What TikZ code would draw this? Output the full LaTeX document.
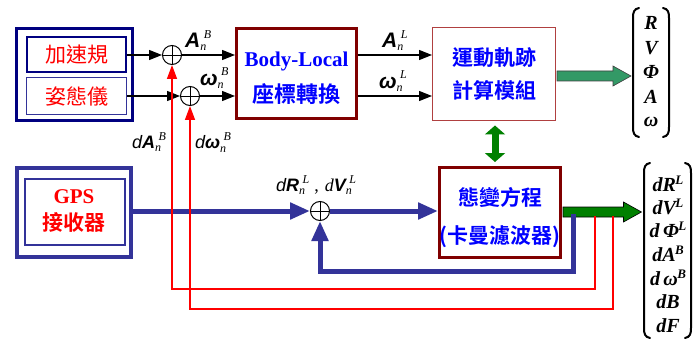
\documentclass[tikz,border=0pt]{standalone}
\usepackage{fontspec}
\setmainfont{Liberation Serif}
\newfontfamily\cjk{Noto Sans CJK TC}
\newfontfamily\cjkb{Noto Sans CJK TC Bold}
\newfontfamily\arialf{Liberation Sans}
\usetikzlibrary{arrows.meta,calc}
\definecolor{navyb}{RGB}{0,0,128}
\definecolor{gpsb}{RGB}{51,51,153}
\definecolor{dred}{RGB}{128,0,0}
\definecolor{mred}{RGB}{176,64,64}
\definecolor{tblue}{RGB}{0,0,255}
\definecolor{sgreen}{RGB}{51,153,102}
\definecolor{dgreen}{RGB}{0,128,0}
\newcommand{\vlbl}[5]{{\fontsize{#1}{#1}\selectfont #2}\rlap{\raisebox{-3pt}{\fontsize{12}{12}\selectfont\itshape #3}}\kern3.5pt\raisebox{#5}{\fontsize{12}{12}\selectfont\itshape #4}}
\newcommand{\supL}[1]{\kern-0.5pt\raisebox{7.5pt}{\fontsize{13}{13}\selectfont #1}}
\begin{document}
\begin{tikzpicture}[x=1pt,y=-1pt,
  boxn/.style={draw, inner sep=0pt, minimum width=#1},
  sumc/.style={circle, draw, line width=1pt, minimum size=19pt, inner sep=0pt, fill=white},
  blk/.style={line width=1.2pt, -{Triangle[length=13pt,width=10pt]}},
  redl/.style={red, line width=1.5pt, -{Triangle[length=14pt,width=10pt]}},
  bluel/.style={gpsb, line width=5pt, -{Triangle[length=20pt,width=16pt]}},
  cjkr/.style={red, font=\fontsize{21}{24}\selectfont\cjk},
  cjkbl/.style={tblue, font=\fontsize{21}{24}\selectfont\cjkb},
  ent/.style={font=\fontsize{20}{20}\selectfont\bfseries\itshape, inner sep=0pt},
  lab/.style={anchor=base west, inner sep=0pt},
  brk/.style={line width=2pt, line cap=round}
]
\path[use as bounding box, fill=white] (0,0) rectangle (693,342);

% IMU group
\node[boxn=116, draw=navyb, line width=3pt, minimum height=92] (imu) at (74.5,74.5) {};
\node[boxn=99, draw=navyb, line width=2pt, minimum height=35] (acc) at (76.5,55) {};
\node[boxn=100, draw=gpsb, line width=1pt, minimum height=37] (gyro) at (76.5,96) {};
\node[cjkr] (acct) at (acc) {加速規};
\node[cjkr] (gyrot) at (gyro) {姿態儀};

% GPS
\node[boxn=114, draw=gpsb, line width=4pt, minimum height=89] (gps) at (74,212.5) {};
\node[boxn=100, draw=gpsb, line width=2pt, minimum height=66] (gpsi) at (75,212) {};
\node[red, font=\fontsize{21}{24}\selectfont\bfseries] (gpst1) at ($(gps)+(0,-15.5)$) {GPS};
\node[red, font=\fontsize{21}{24}\selectfont\cjkb] (gpst2) at ($(gps)+(0,9.5)$) {接收器};

% Body-Local
\node[boxn=120, draw=dred, line width=3pt, minimum height=90] (bl) at (296.5,73.5) {};
\node[tblue, font=\fontsize{21}{24}\selectfont\bfseries] (blt1) at ($(bl)+(0,-12)$) {Body-Local};
\node[tblue, font=\fontsize{22}{24}\selectfont\cjkb] (blt2) at ($(bl)+(0,21)$) {座標轉換};

% Motion module
\node[boxn=123, draw=mred, line width=1pt, minimum height=93] (motion) at (494,74.5) {};
\node[cjkbl] (mt1) at ($(motion)+(0,-16.5)$) {運動軌跡};
\node[cjkbl] (mt2) at ($(motion)+(0,15.5)$) {計算模組};

% Kalman
\node[boxn=121, draw=dred, line width=3pt, minimum height=90] (kal) at (500,212.5) {};
\node[cjkbl] (kt1) at ($(kal)+(0,-15.5)$) {態變方程};
\node[cjkbl] (kt2) at ($(kal)+(0,24.5)$) {(卡曼濾波器)};

% summing junctions
\node[sumc] (c1) at (172,55) {};
\node[sumc] (c2) at (190,96) {};
\node[sumc] (c3) at (320,211) {};

% black arrows
\draw[blk] (acc.east) -- (c1.west);
\draw[blk] (gyro.east) -- (c2.west);
\draw[blk] (c1.east) -- (bl.west |- c1);
\draw[blk] (c2.east) -- (bl.west |- c2);
\draw[blk] (bl.east |- c1) -- (motion.west |- c1);
\draw[blk] (bl.east |- c2) -- (motion.west |- c2);

% green arrows
\draw[fill=sgreen, draw=black!75, line width=0.6pt] ($(motion.east)+(1,6.5)$) -- ++(56,0) -- ++(0,5) -- ++(18,-10) -- ++(-18,-10) -- ++(0,5) -- ++(-56,0) -- cycle;
\draw[fill=dgreen, draw=black, line width=0.6pt] ($(kal.east)+(1,4.5)$) -- ++(60.5,0) -- ++(0,5) -- ++(18,-10) -- ++(-18,-10) -- ++(0,5) -- ++(-60.5,0) -- cycle;
\draw[dgreen, line width=7pt, {Triangle[length=9pt,width=20pt]}-{Triangle[length=9pt,width=20pt]}] ($(motion.south)+(1,4)$) -- ($(motion.south |- kal.north)+(1,-4)$);

% GPS path
\draw[bluel] (gps.east |- c3) -- (c3.west);
\draw[bluel] (c3.east) -- (kal.west |- c3);
\coordinate (fb) at (573,214);
\draw[bluel] (fb) -- (fb |- 0,271) -| (c3.south);

% red feedback
\coordinate (r1) at (595,216);
\coordinate (r2) at (613,216);
\draw[redl] (r1) -- (r1 |- 0,289) -| (c1.south);
\draw[redl] (r2) -- (r2 |- 0,309) -| (c2.south);

% crosses in junctions
\foreach \c in {c1,c2,c3} {
  \draw[line width=0.9pt] (\c.north) -- (\c.south) (\c.west) -- (\c.east);
}

% labels
\node[lab] (lab1) at (185,48) {\vlbl{21}{\arialf\bfseries\itshape A}{n}{B}{9pt}};
\node[lab] (lab2) at (200,86) {\vlbl{21}{\arialf\bfseries\itshape ω}{n}{B}{10pt}};
\node[lab] (lab3) at (382,48) {\vlbl{21}{\arialf\bfseries\itshape A}{n}{L}{9pt}};
\node[lab] (lab4) at (379,89) {\vlbl{21}{\arialf\bfseries\itshape ω}{n}{L}{10pt}};
\node[lab] (lab5) at (132,148) {\vlbl{18}{\arialf\itshape d\bfseries A}{n}{B}{8pt}};
\node[lab] (lab6) at (195,149) {\vlbl{18}{\arialf\itshape d\bfseries ω}{n}{B}{9pt}};
\node[lab] (lab7) at (276,191) {\vlbl{18}{\arialf\itshape d\bfseries R}{n}{L}{8pt}\kern5pt{\fontsize{18}{18}\selectfont ,}\kern6pt\vlbl{18}{\itshape d\arialf\bfseries V}{n}{L}{8pt}};

% top state vector
\draw[brk] (639,8) .. controls (634,9) and (633,12) .. (633,18) -- (633,127) .. controls (633,133) and (634,136) .. (639,137);
\draw[brk] (663,8) .. controls (668,9) and (669,12) .. (669,18) -- (669,127) .. controls (669,133) and (668,136) .. (663,137);
\node[ent] (e1) at (651,23) {R};
\node[ent] (e2) at (651,48) {V};
\node[ent] (e3) at (651,72) {Φ};
\node[ent] (e4) at (651,97) {A};
\node[ent] (e5) at (651,122) {ω};

% bottom error vector
\draw[brk] (650,163) .. controls (645,164) and (644,167) .. (644,173) -- (644,328) .. controls (644,334) and (645,337) .. (650,338);
\draw[brk] (685,163) .. controls (690,164) and (691,167) .. (691,173) -- (691,328) .. controls (691,334) and (690,337) .. (685,338);
\node[ent] (f1) at (668,184) {dR\supL{L}};
\node[ent] (f2) at (668,207) {dV\supL{L}};
\node[ent] (f3) at (668,230) {d\,Φ\supL{L}};
\node[ent] (f4) at (668,254) {dA\supL{B}};
\node[ent] (f5) at (668,278) {d\,ω\supL{B}};
\node[ent] (f6) at (668,302) {dB};
\node[ent] (f7) at (668,326) {dF};
\end{tikzpicture}
\end{document}
